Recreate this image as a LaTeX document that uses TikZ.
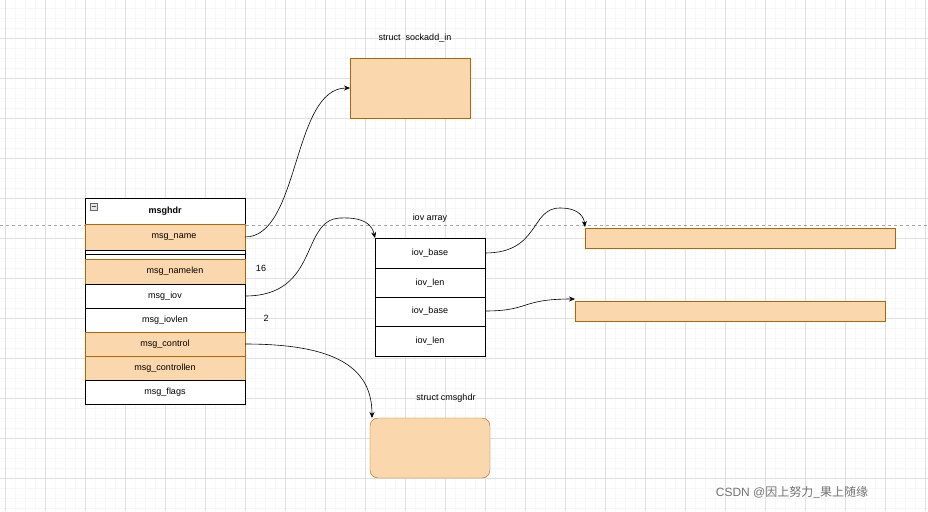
\documentclass[tikz,border=0pt]{standalone}
\usepackage{fontspec}
\setmainfont{Liberation Sans}
\newfontfamily\cjk{Noto Sans CJK SC}
\usetikzlibrary{arrows.meta}
\definecolor{fillor}{HTML}{FAD7AC}
\definecolor{stror}{HTML}{B46504}
\begin{document}
\begin{tikzpicture}[x=1pt,y=-1pt,font=\fontsize{9}{10}\selectfont,
  org/.style={draw=stror,fill=fillor},
  wht/.style={draw=black,fill=white},
  lbl/.style={inner sep=0pt},
  con/.style={-{Stealth[length=6pt,width=5pt]},black,line width=0.6pt}]
\useasboundingbox (0,0) rectangle (928,511);
\fill[white] (0,0) rectangle (928,511);
\foreach \x in {15,25,...,925} \draw[black!3] (\x,0)--(\x,511);
\foreach \y in {8,18,...,510} \draw[black!3] (0,\y)--(928,\y);
\foreach \x in {5,45,...,925} \draw[black!12] (\x,0)--(\x,511);
\foreach \y in {38,78,...,510} \draw[black!12] (0,\y)--(928,\y);
\draw[black!35,dashed] (0,225)--(928,225);
% sockaddr
\node[lbl] (tsock) at (415,38) {struct\ \ sockadd\_in};
\draw[org] (350,58) rectangle (470,118);
\coordinate (sock) at (350,88);
% msghdr
\draw[wht] (85,198) rectangle (245,224);
\draw[black!60,fill=black!10] (90,203) rectangle (97,210);
\draw[black!70] (91.5,206.5)--(95.5,206.5);
\node[lbl,font=\fontsize{9}{10}\selectfont\bfseries] (hdr) at (165,211) {msghdr};
\draw[org] (85,224) rectangle (245,250);
\node[lbl] (mname) at (174,237) {msg\_name};
\draw[wht] (85,250) rectangle (245,259);
\draw (85,254.5)--(245,254.5);
\draw[org] (85,259) rectangle (245,284);
\node[lbl] (mnamelen) at (175,271) {msg\_namelen};
\draw[wht] (85,284) rectangle (245,308);
\node[lbl] (miov) at (165,296) {msg\_iov};
\draw[wht] (85,308) rectangle (245,332);
\node[lbl] (miovlen) at (165,320) {msg\_iovlen};
\draw[org] (85,332) rectangle (245,356);
\node[lbl] (mctl) at (165,344) {msg\_control};
\draw[org] (85,356) rectangle (245,380);
\node[lbl] (mctllen) at (165,368) {msg\_controllen};
\draw[wht] (85,380) rectangle (245,404);
\node[lbl] (mflags) at (165,392) {msg\_flags};
\coordinate (pname) at (245,237);
\coordinate (piov) at (245,296);
\coordinate (pctl) at (245,344);
\node[lbl] (n16) at (261,268) {16};
\node[lbl] (n2) at (266,318) {2};
% iov array
\node[lbl] (tiov) at (430,218) {iov array};
\draw[wht] (375,238) rectangle (485,268);
\draw[wht] (375,268) rectangle (485,297);
\draw[wht] (375,297) rectangle (485,326);
\draw[wht] (375,326) rectangle (485,356);
\node[lbl] (b1) at (430,253) {iov\_base};
\node[lbl] (l1) at (430,283) {iov\_len};
\node[lbl] (b2) at (430,311) {iov\_base};
\node[lbl] (l2) at (430,341) {iov\_len};
\coordinate (pb1) at (485,253);
\coordinate (pb2) at (485,311);
\coordinate (iovtop) at (375,238);
% buffers
\draw[org] (585,228) rectangle (895,248);
\draw[org] (575,301) rectangle (885,321);
\coordinate (buf1) at (585,227);
\coordinate (buf2) at (575,299);
% cmsghdr
\node[lbl] (tcm) at (446,398) {struct cmsghdr};
\draw[org,rounded corners=8pt] (370,418) rectangle (490,478);
\coordinate (cm) at (372,418);
% connectors
\draw[con] (pname) .. controls (300,237) and (292,88) .. (sock);
\draw[con] (piov) .. controls (320,296) and (300,220) .. (340,218) .. controls (365,217) and (372,225) .. (iovtop);
\draw[con] (pb1) .. controls (540,253) and (530,208) .. (560,208) .. controls (580,208) and (584,218) .. (buf1);
\draw[con] (pb2) .. controls (530,311) and (520,299) .. (buf2);
\draw[con] (pctl) .. controls (340,344) and (372,370) .. (cm);
\node[lbl,text=black!55,font=\fontsize{12}{14}\selectfont] (wm) at (792,492) {CSDN @{\cjk 因上努力\_果上随缘}};
\end{tikzpicture}
\end{document}
